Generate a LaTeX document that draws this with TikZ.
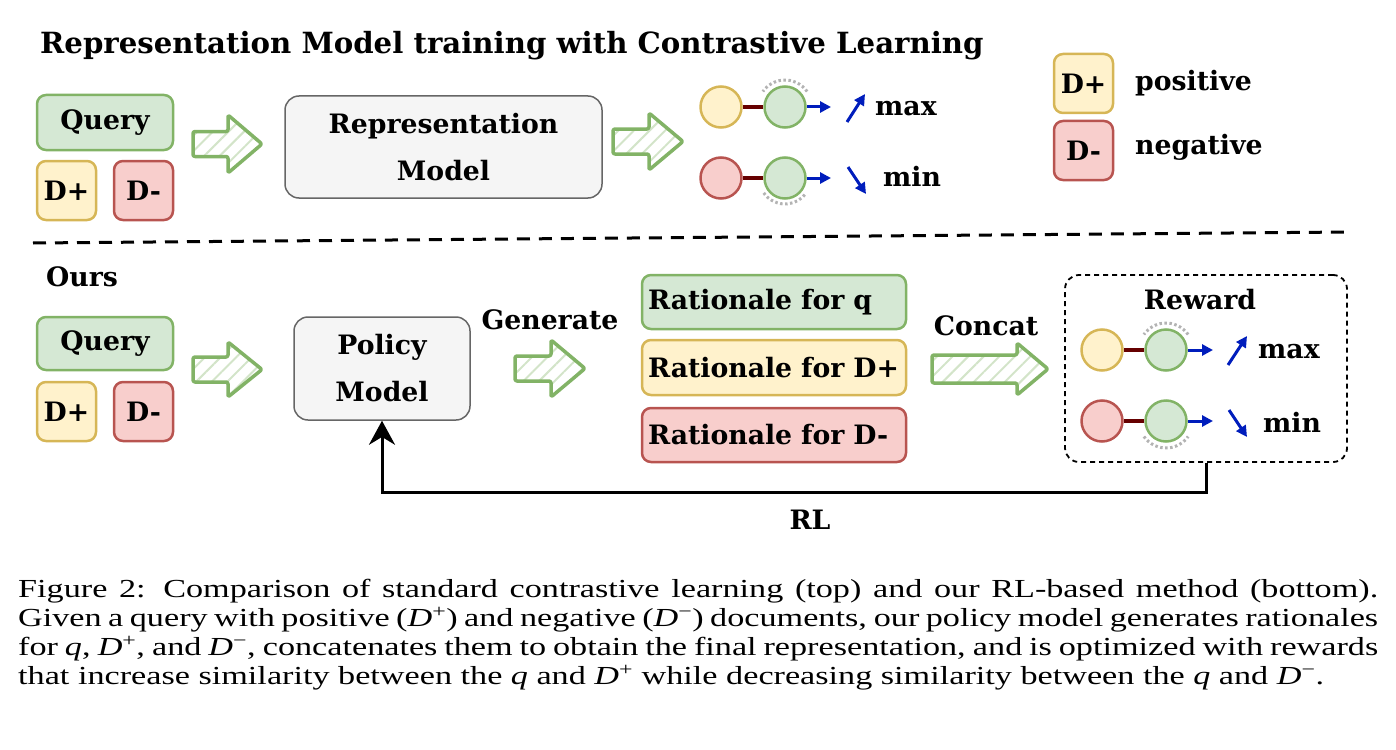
\documentclass[tikz,border=0pt]{standalone}
\usepackage{fontspec}
\setmainfont{DejaVu Serif}
\newfontfamily\capfont[FakeStretch=1.315]{Liberation Serif}
\usetikzlibrary{arrows.meta, positioning, patterns.meta, calc}
\definecolor{qfill}{HTML}{D5E8D4}
\definecolor{qline}{HTML}{82B366}
\definecolor{pfill}{HTML}{FFF2CC}
\definecolor{pline}{HTML}{D6B656}
\definecolor{nfill}{HTML}{F8CECC}
\definecolor{nline}{HTML}{B85450}
\definecolor{gfill}{HTML}{F5F5F5}
\definecolor{gline}{HTML}{666666}
\definecolor{sblue}{HTML}{001DBC}
\definecolor{slink}{HTML}{660000}
\definecolor{sdot}{HTML}{B3B3B3}
\newcommand{\dplus}{\textit{D}\textsuperscript{+}}
\newcommand{\dminus}{\textit{D}\textsuperscript{−}}
\tikzset{
  lbl/.style={font=\bfseries\fontsize{26.7}{30}\selectfont, inner sep=0pt},
  qbox/.style={lbl, draw=qline, fill=qfill, line width=2.5pt, rounded corners=9pt},
  pbox/.style={lbl, draw=pline, fill=pfill, line width=2.5pt, rounded corners=9pt},
  nbox/.style={lbl, draw=nline, fill=nfill, line width=2.5pt, rounded corners=9pt},
  mbox/.style={lbl, draw=gline, fill=gfill, line width=1.5pt, rounded corners=14pt, align=center,
               font=\bfseries\fontsize{26.7}{47}\selectfont},
  rbox/.style={text width=252pt, align=left, inner xsep=6pt, minimum height=54pt},
  hatch/.style={draw=qline, line width=3.5pt, line join=round, rounded corners=2pt,
                pattern={Lines[angle=45, distance=11pt, line width=2pt]}, pattern color=qline!35},
  dot/.style={circle, minimum size=41pt, inner sep=0pt, line width=2.5pt},
  simline/.style={slink, line width=3.5pt},
  barr/.style={sblue, line width=3pt, -{Triangle[length=11pt, width=11pt]}},
  dotarc/.style={sdot, line width=3pt, dash pattern=on 2.5pt off 2.5pt},
  rlarr/.style={black, line width=3pt, -{Stealth[length=24pt, width=26pt]}},
  captxt/.style={font={\capfont\fontsize{26}{29}\selectfont\lineskiplimit=-20pt\relax}, inner sep=0pt, align=left},
}
% block arrow: left x, tip x, centre y, head base x, half shaft, half head
\newcommand{\hatcharrow}[6]{%
  \draw[hatch] (#1,#3-#5) -- (#4,#3-#5) -- (#4,#3-#6) -- (#2,#3)
    -- (#4,#3+#6) -- (#4,#3+#5) -- (#1,#3+#5) -- cycle;}
\begin{document}
\begin{tikzpicture}[x=1pt, y=-1pt]
  \useasboundingbox (0,0) rectangle (1396,749);
  % Contrastive learning (top)
  \node[lbl, anchor=west, font=\bfseries\fontsize{29.2}{30}\selectfont] (title) at (40,46)
    {Representation Model training with Contrastive Learning};
  \node[qbox, minimum width=136pt, minimum height=55pt] (query1) at (105,122.5) {Query};
  \node[pbox, minimum width=59pt, minimum height=59pt] (pos1) at (66.5,190.5) {D+};
  \node[nbox, minimum width=59pt, minimum height=59pt] (neg1) at (143.5,190.5) {D-};
  \hatcharrow{193}{262}{144}{228}{12.5}{29}
  \node[mbox, minimum width=317pt, minimum height=102pt] (repr) at (443.5,147) {Representation\\Model};
  \hatcharrow{613}{683}{141.5}{649}{12.5}{28.5}
  % similarity pairs
  \node[dot, draw=pline, fill=pfill] (y1) at (721,107) {};
  \node[dot, draw=qline, fill=qfill] (q1) at (785,107) {};
  \node[dot, draw=nline, fill=nfill] (n1) at (721,178) {};
  \node[dot, draw=qline, fill=qfill] (q2) at (785,178) {};
  \draw[simline] (y1) -- (q1);
  \draw[simline] (n1) -- (q2);
  \draw[dotarc] (q1.center) ++(35:27pt) arc[start angle=35, end angle=145, radius=27pt];
  \draw[dotarc] (q2.center) ++(215:26pt) arc[start angle=215, end angle=325, radius=26pt];
  \coordinate (s1) at (831,107);
  \coordinate (s2) at (831,178);
  \draw[barr] (q1.east) -- (s1);
  \draw[barr] (q2.east) -- (s2);
  \coordinate (up1a) at (847,122);  \coordinate (up1b) at (865,94);
  \coordinate (dn1a) at (848,167);  \coordinate (dn1b) at (866,194);
  \draw[barr] (up1a) -- (up1b);
  \draw[barr] (dn1a) -- (dn1b);
  \node[lbl, anchor=west] (max1) at (875,109) {max};
  \node[lbl, anchor=west] (min1) at (883,176) {min};
  % Legend
  \node[pbox, minimum width=59pt, minimum height=59pt] (legpos) at (1083.5,83.5) {D+};
  \node[nbox, minimum width=59pt, minimum height=59pt] (legneg) at (1083.5,150.5) {D-};
  \node[lbl, anchor=west] (postxt) at (1135,83) {positive};
  \node[lbl, anchor=west] (negtxt) at (1135,147) {negative};
  % separator
  \coordinate (sepl) at (33,243);
  \coordinate (sepr) at (1350,232);
  \draw[black, line width=3pt, dash pattern=on 13pt off 9pt] (sepl) -- (sepr);
  % Ours (bottom)
  \node[lbl, anchor=west] (ours) at (46,277) {Ours};
  \node[qbox, minimum width=136pt, minimum height=53pt] (query2) at (105,343.5) {Query};
  \node[pbox, minimum width=59pt, minimum height=59pt] (pos2) at (66.5,411.5) {D+};
  \node[nbox, minimum width=59pt, minimum height=59pt] (neg2) at (143.5,411.5) {D-};
  \hatcharrow{193}{262}{369.5}{228}{12.5}{27.5}
  \node[mbox, minimum width=176pt, minimum height=103pt] (policy) at (382,368.5) {Policy\\Model};
  \node[lbl] (gen) at (550,320) {Generate};
  \hatcharrow{515}{585}{368.5}{551}{12.5}{28.5}
  \node[qbox, rbox] (ratq) at (774,302) {Rationale for q};
  \node[pbox, rbox, minimum height=55pt] (ratp) at (774,367.5) {Rationale for D+};
  \node[nbox, rbox] (ratn) at (774,435) {Rationale for D-};
  \node[lbl] (concat) at (986,326) {Concat};
  \hatcharrow{932}{1048}{369}{1017}{14}{26}
  % Reward
  \node[draw, line width=1.8pt, dash pattern=on 5pt off 4pt, rounded corners=14pt,
        minimum width=282pt, minimum height=187pt] (reward) at (1206,368.5) {};
  \node[lbl] (rewtxt) at (1200,300) {Reward};
  \node[dot, draw=pline, fill=pfill] (y2) at (1102,350) {};
  \node[dot, draw=qline, fill=qfill] (q3) at (1166,350) {};
  \node[dot, draw=nline, fill=nfill] (n2) at (1102,421) {};
  \node[dot, draw=qline, fill=qfill] (q4) at (1166,421) {};
  \draw[simline] (y2) -- (q3);
  \draw[simline] (n2) -- (q4);
  \draw[dotarc] (q3.center) ++(35:27pt) arc[start angle=35, end angle=145, radius=27pt];
  \draw[dotarc] (q4.center) ++(215:27pt) arc[start angle=215, end angle=325, radius=27pt];
  \coordinate (s3) at (1213,350);
  \coordinate (s4) at (1213,421);
  \draw[barr] (q3.east) -- (s3);
  \draw[barr] (q4.east) -- (s4);
  \coordinate (up2a) at (1228,365);  \coordinate (up2b) at (1247,336);
  \coordinate (dn2a) at (1229,410);  \coordinate (dn2b) at (1247,437);
  \draw[barr] (up2a) -- (up2b);
  \draw[barr] (dn2a) -- (dn2b);
  \node[lbl, anchor=west] (max2) at (1258,352) {max};
  \node[lbl, anchor=west] (min2) at (1263,422) {min};
  % RL feedback
  \draw[rlarr] (reward.south) -- ++(0,30) -| (policy.south);
  \node[lbl] (rl) at (810,520) {RL};
  % Caption
  \node[captxt, anchor=north west] (caption) at (18,579)
    {\makebox[1360pt][s]{Figure 2: Comparison of standard contrastive learning (top) and our RL-based method (bottom).}\\
     \makebox[1360pt][s]{Given a query with positive (\dplus) and negative (\dminus) documents, our policy model generates rationales}\\
     \makebox[1360pt][s]{for \textit{q}, \dplus, and \dminus, concatenates them to obtain the final representation, and is optimized with rewards}\\
     that increase similarity between the \textit{q} and \dplus{} while decreasing similarity between the \textit{q} and \dminus.};
\end{tikzpicture}
\end{document}
